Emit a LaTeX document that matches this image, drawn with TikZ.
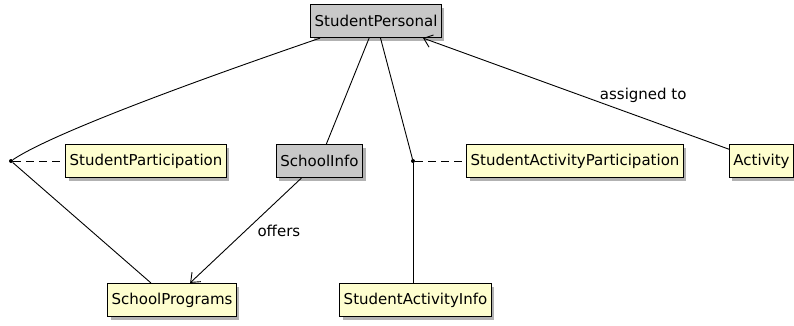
\documentclass[tikz,border=0pt]{standalone}
\usepackage{fontspec}
\setmainfont{DejaVu Sans}
\usepackage{xcolor}
\usepackage{tikz}
\usetikzlibrary{arrows.meta, shadows}

\definecolor{umlyellow}{RGB}{254,254,206}
\definecolor{umlgray}{RGB}{200,200,200}

\begin{document}
\begin{tikzpicture}[
  x=1pt, y=1pt,
  font=\fontsize{15}{18}\selectfont,
  cls/.style={draw=black, line width=1.2pt, minimum height=33pt, inner xsep=4pt,
              drop shadow={shadow xshift=3pt, shadow yshift=-3pt, opacity=0.3, fill=black}},
  entity/.style={cls, fill=umlyellow},
  core/.style={cls, fill=umlgray},
  dot/.style={circle, fill=black, inner sep=0pt, minimum size=4pt},
  link/.style={line width=0.9pt},
  assoc/.style={link, -{Straight Barb[length=8pt, width=13pt, line width=0.9pt]}},
  dashlink/.style={link, dash pattern=on 8pt off 5pt}
]
  \useasboundingbox (0,0) rectangle (794,-325);

  % class boxes
  \node[core] (personal) at (376,-21) {StudentPersonal};
  \node[entity] (participation) at (146,-161) {StudentParticipation};
  \node[core] (schoolinfo) at (319.5,-161) {SchoolInfo};
  \node[entity] (actparticipation) at (575,-161) {StudentActivityParticipation};
  \node[entity] (activity) at (761.5,-161) {Activity};
  \node[entity] (programs) at (172,-300) {SchoolPrograms};
  \node[entity] (actinfo) at (415.5,-300) {StudentActivityInfo};

  % association points
  \node[dot] (joinleft) at (11,-161) {};
  \node[dot] (joinmid) at (413,-161) {};

  \draw[link] (personal.197) to[out=199, in=34, looseness=0.45] (joinleft);
  \draw[link] (joinleft) -- (programs.141);
  \draw[dashlink] (joinleft) -- (participation);

  \draw[link] (personal) -- (schoolinfo);
  \draw[assoc] (schoolinfo) -- node[pos=0.5, right=8pt]{offers} (programs);

  \draw[link] (personal) -- (joinmid);
  \draw[link] (joinmid) -- (joinmid |- actinfo.north);
  \draw[dashlink] (joinmid) -- (actparticipation);

  \draw[assoc] (activity) -- node[pos=0.28, above=12pt]{assigned to} (personal);
\end{tikzpicture}
\end{document}
